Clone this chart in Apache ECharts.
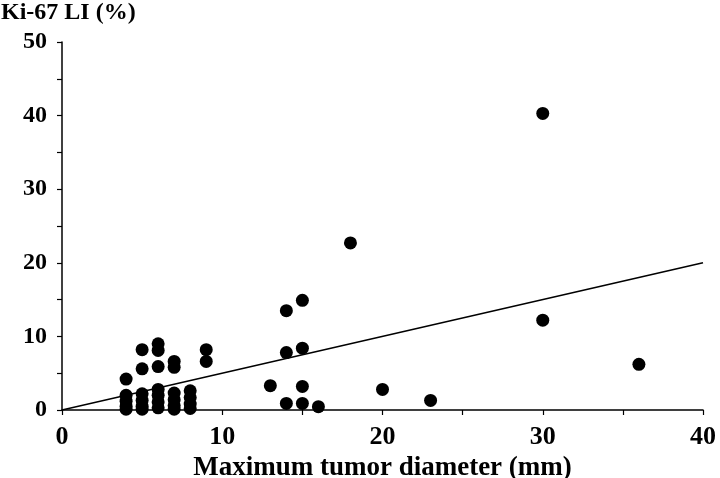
<!DOCTYPE html>
<html>
<head>
<meta charset="utf-8">
<script src="https://cdn.jsdelivr.net/npm/echarts@6/dist/echarts.min.js"></script>
<style>html,body{margin:0;padding:0;background:#fff;}#c{width:720px;height:478px;}</style>
</head>
<body>
<div id="c"></div>
<script>
// Maximum tumor diameter (mm)
var diameters = [
  4,4,4,4,4,
  5,5,5,5,5,5,
  6,6,6,6,6,6,6,
  7,7,7,7,7,7,
  8,8,8,8,
  9,9,
  13,14,14,14,15,15,15,15,16,
  18,20,23,30,30,36
];
// Ki-67 LI (%)
var ki67 = [
  4.2,2.0,1.2,0.5,0.1,
  8.2,5.6,2.2,1.3,0.5,0.1,
  9.0,8.1,5.9,2.8,2.0,1.1,0.3,
  6.6,5.8,2.3,1.4,0.6,0.1,
  2.6,1.7,0.8,0.2,
  8.2,6.6,
  3.3,13.5,7.8,0.9,14.9,8.4,3.2,0.9,0.45,
  22.7,2.8,1.3,40.3,12.2,6.2
];
// Regression line end points
var fitX = [0, 40];
var fitY = [0, 20];

var xTicks = [0, 10, 20, 30, 40];
var yTicks = [0, 10, 20, 30, 40, 50];

var points = diameters.map(function (d, i) { return [d, ki67[i]]; });
var fit = fitX.map(function (d, i) { return [d, fitY[i]]; });

var font = 'Liberation Serif';
var chart = echarts.init(document.getElementById('c'));
chart.setOption({
  animation: false,
  backgroundColor: '#fff',
  title: {
    text: 'Ki-67 LI (%)',
    left: 1, top: 1, padding: 0,
    textStyle: { fontFamily: font, fontWeight: 'bold', fontSize: 24, color: '#000' }
  },
  grid: { left: 62, right: 17, top: 42, bottom: 68, containLabel: false, outerBoundsMode: 'none' },
  xAxis: {
    type: 'value', min: xTicks[0], max: xTicks[xTicks.length - 1], interval: 10,
    name: 'Maximum tumor diameter (mm)', nameLocation: 'middle', nameGap: 40,
    nameTextStyle: { fontFamily: font, fontWeight: 'bold', fontSize: 27, color: '#000' },
    axisLine: { show: true, onZero: false, lineStyle: { color: '#000', width: 1.5 } },
    axisTick: { show: true, inside: false, length: 5, lineStyle: { color: '#000', width: 1.2 } },
    minorTick: { show: true, splitNumber: 2, length: 5, lineStyle: { color: '#000', width: 1.2 } },
    splitLine: { show: false },
    axisLabel: { fontFamily: font, fontWeight: 'bold', fontSize: 26, color: '#000', margin: 14 }
  },
  yAxis: {
    type: 'value', min: yTicks[0], max: yTicks[yTicks.length - 1], interval: 10,
    axisLine: { show: true, onZero: false, lineStyle: { color: '#000', width: 1.5 } },
    axisTick: { show: true, inside: false, length: 5, lineStyle: { color: '#000', width: 1.2 } },
    minorTick: { show: true, splitNumber: 2, length: 5, lineStyle: { color: '#000', width: 1.2 } },
    splitLine: { show: false },
    axisLabel: { fontFamily: font, fontWeight: 'bold', fontSize: 24, color: '#000', margin: 15 }
  },
  series: [
    {
      type: 'line', data: fit, symbol: 'none', silent: true,
      lineStyle: { color: '#000', width: 1.5 }, z: 1
    },
    {
      type: 'scatter', data: points, symbol: 'circle', symbolSize: 13,
      itemStyle: { color: '#000', opacity: 1 }, z: 2
    }
  ]
});
</script>
</body>
</html>
